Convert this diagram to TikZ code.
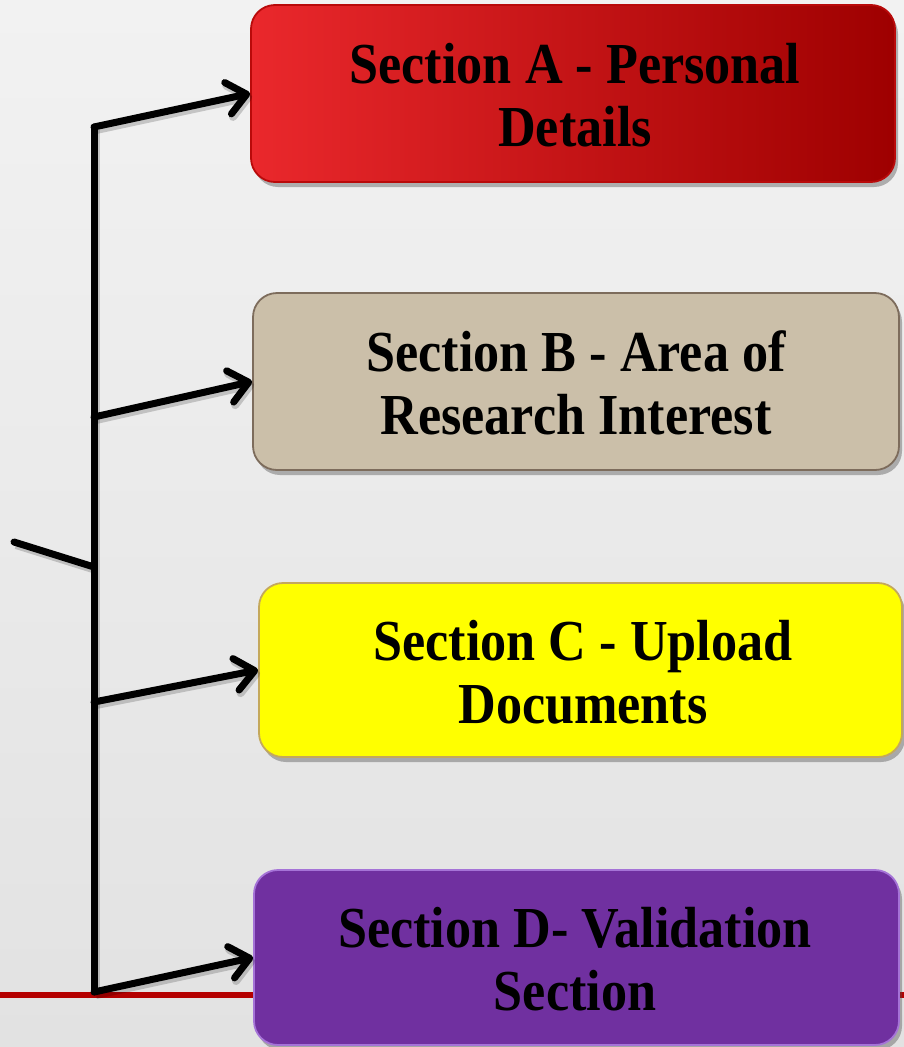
\documentclass[tikz,border=0pt]{standalone}
\usepackage{fontspec}
\setmainfont{Liberation Serif}
\usetikzlibrary{arrows.meta,shadows}
\definecolor{bgtop}{RGB}{242,242,242}
\definecolor{bgbot}{RGB}{226,226,226}
\definecolor{redL}{RGB}{234,40,44}
\definecolor{redR}{RGB}{158,0,0}
\definecolor{redB}{RGB}{185,10,10}
\definecolor{tanF}{RGB}{203,191,169}
\definecolor{tanB}{RGB}{125,108,92}
\definecolor{yelF}{RGB}{255,255,0}
\definecolor{yelB}{RGB}{196,168,92}
\definecolor{purF}{RGB}{112,48,160}
\definecolor{purB}{RGB}{165,115,215}
\definecolor{ruleC}{RGB}{180,0,0}
\newcommand\sqz[1]{\scalebox{0.9}[1]{\begin{tabular}{@{}c@{}}#1\end{tabular}}}
\begin{document}
\begin{tikzpicture}[x=1pt,y=-1pt,
  secbox/.style={rounded corners=24pt, inner sep=0pt, line width=1.8pt,
    drop shadow={shadow xshift=3pt, shadow yshift=-5pt, opacity=0.4, fill=black!70}},
  sectext/.style={font=\fontsize{58}{63}\selectfont\bfseries, text=black, inner sep=0pt},
  conn/.style={line width=7pt, line cap=round, line join=round,
    preaction={draw=black, opacity=0.18, line width=8pt, transform canvas={shift={(2pt,-3pt)}}}},
  arr/.style={conn, -{Straight Barb[length=19pt, width=32pt, round]}}]
\useasboundingbox (0,0) rectangle (904,1047);
\fill[top color=bgtop, bottom color=bgbot] (0,0) rectangle (904,1047);
% red rule
\coordinate (rl) at (0,994.5);
\coordinate (rr) at (904,994.5);
\draw[ruleC, line width=6pt] (rl) -- (rr);
% boxes
\node[secbox, minimum width=644pt, minimum height=177pt, left color=redL, right color=redR, draw=redB] (A) at (573,93.5) {};
\node[secbox, minimum width=646pt, minimum height=177pt, fill=tanF, draw=tanB] (B) at (576,381.5) {};
\node[secbox, minimum width=643pt, minimum height=174pt, fill=yelF, draw=yelB] (C) at (580.5,670) {};
\node[secbox, minimum width=645pt, minimum height=175pt, fill=purF, draw=purB] (D) at (576.5,957.5) {};
% texts
\node[sectext] (At) at (575,102.5) {\sqz{Section A - Personal\\Details}};
\node[sectext] (Bt) at (576,390.5) {\sqz{Section B - Area of\\Research Interest}};
\node[sectext] (Ct) at (583,679) {\sqz{Section C - Upload\\Documents}};
\node[sectext] (Dt) at (575,966.5) {\sqz{Section D- Validation\\Section}};
% connectors
\coordinate (top) at (94,127);
\coordinate (jb) at (94,417);
\coordinate (jc) at (94,702);
\coordinate (bot) at (94,992);
\coordinate (js) at (94,567);
\coordinate (stub) at (14,542);
\draw[conn] (top) -- (bot);
\draw[conn] (stub) -- (js);
\draw[arr] (top) -- (A.west);
\draw[arr] (jb) -- (B.west);
\draw[arr] (jc) -- (C.west);
\draw[arr] (bot) -- (D.west);
\end{tikzpicture}
\end{document}
